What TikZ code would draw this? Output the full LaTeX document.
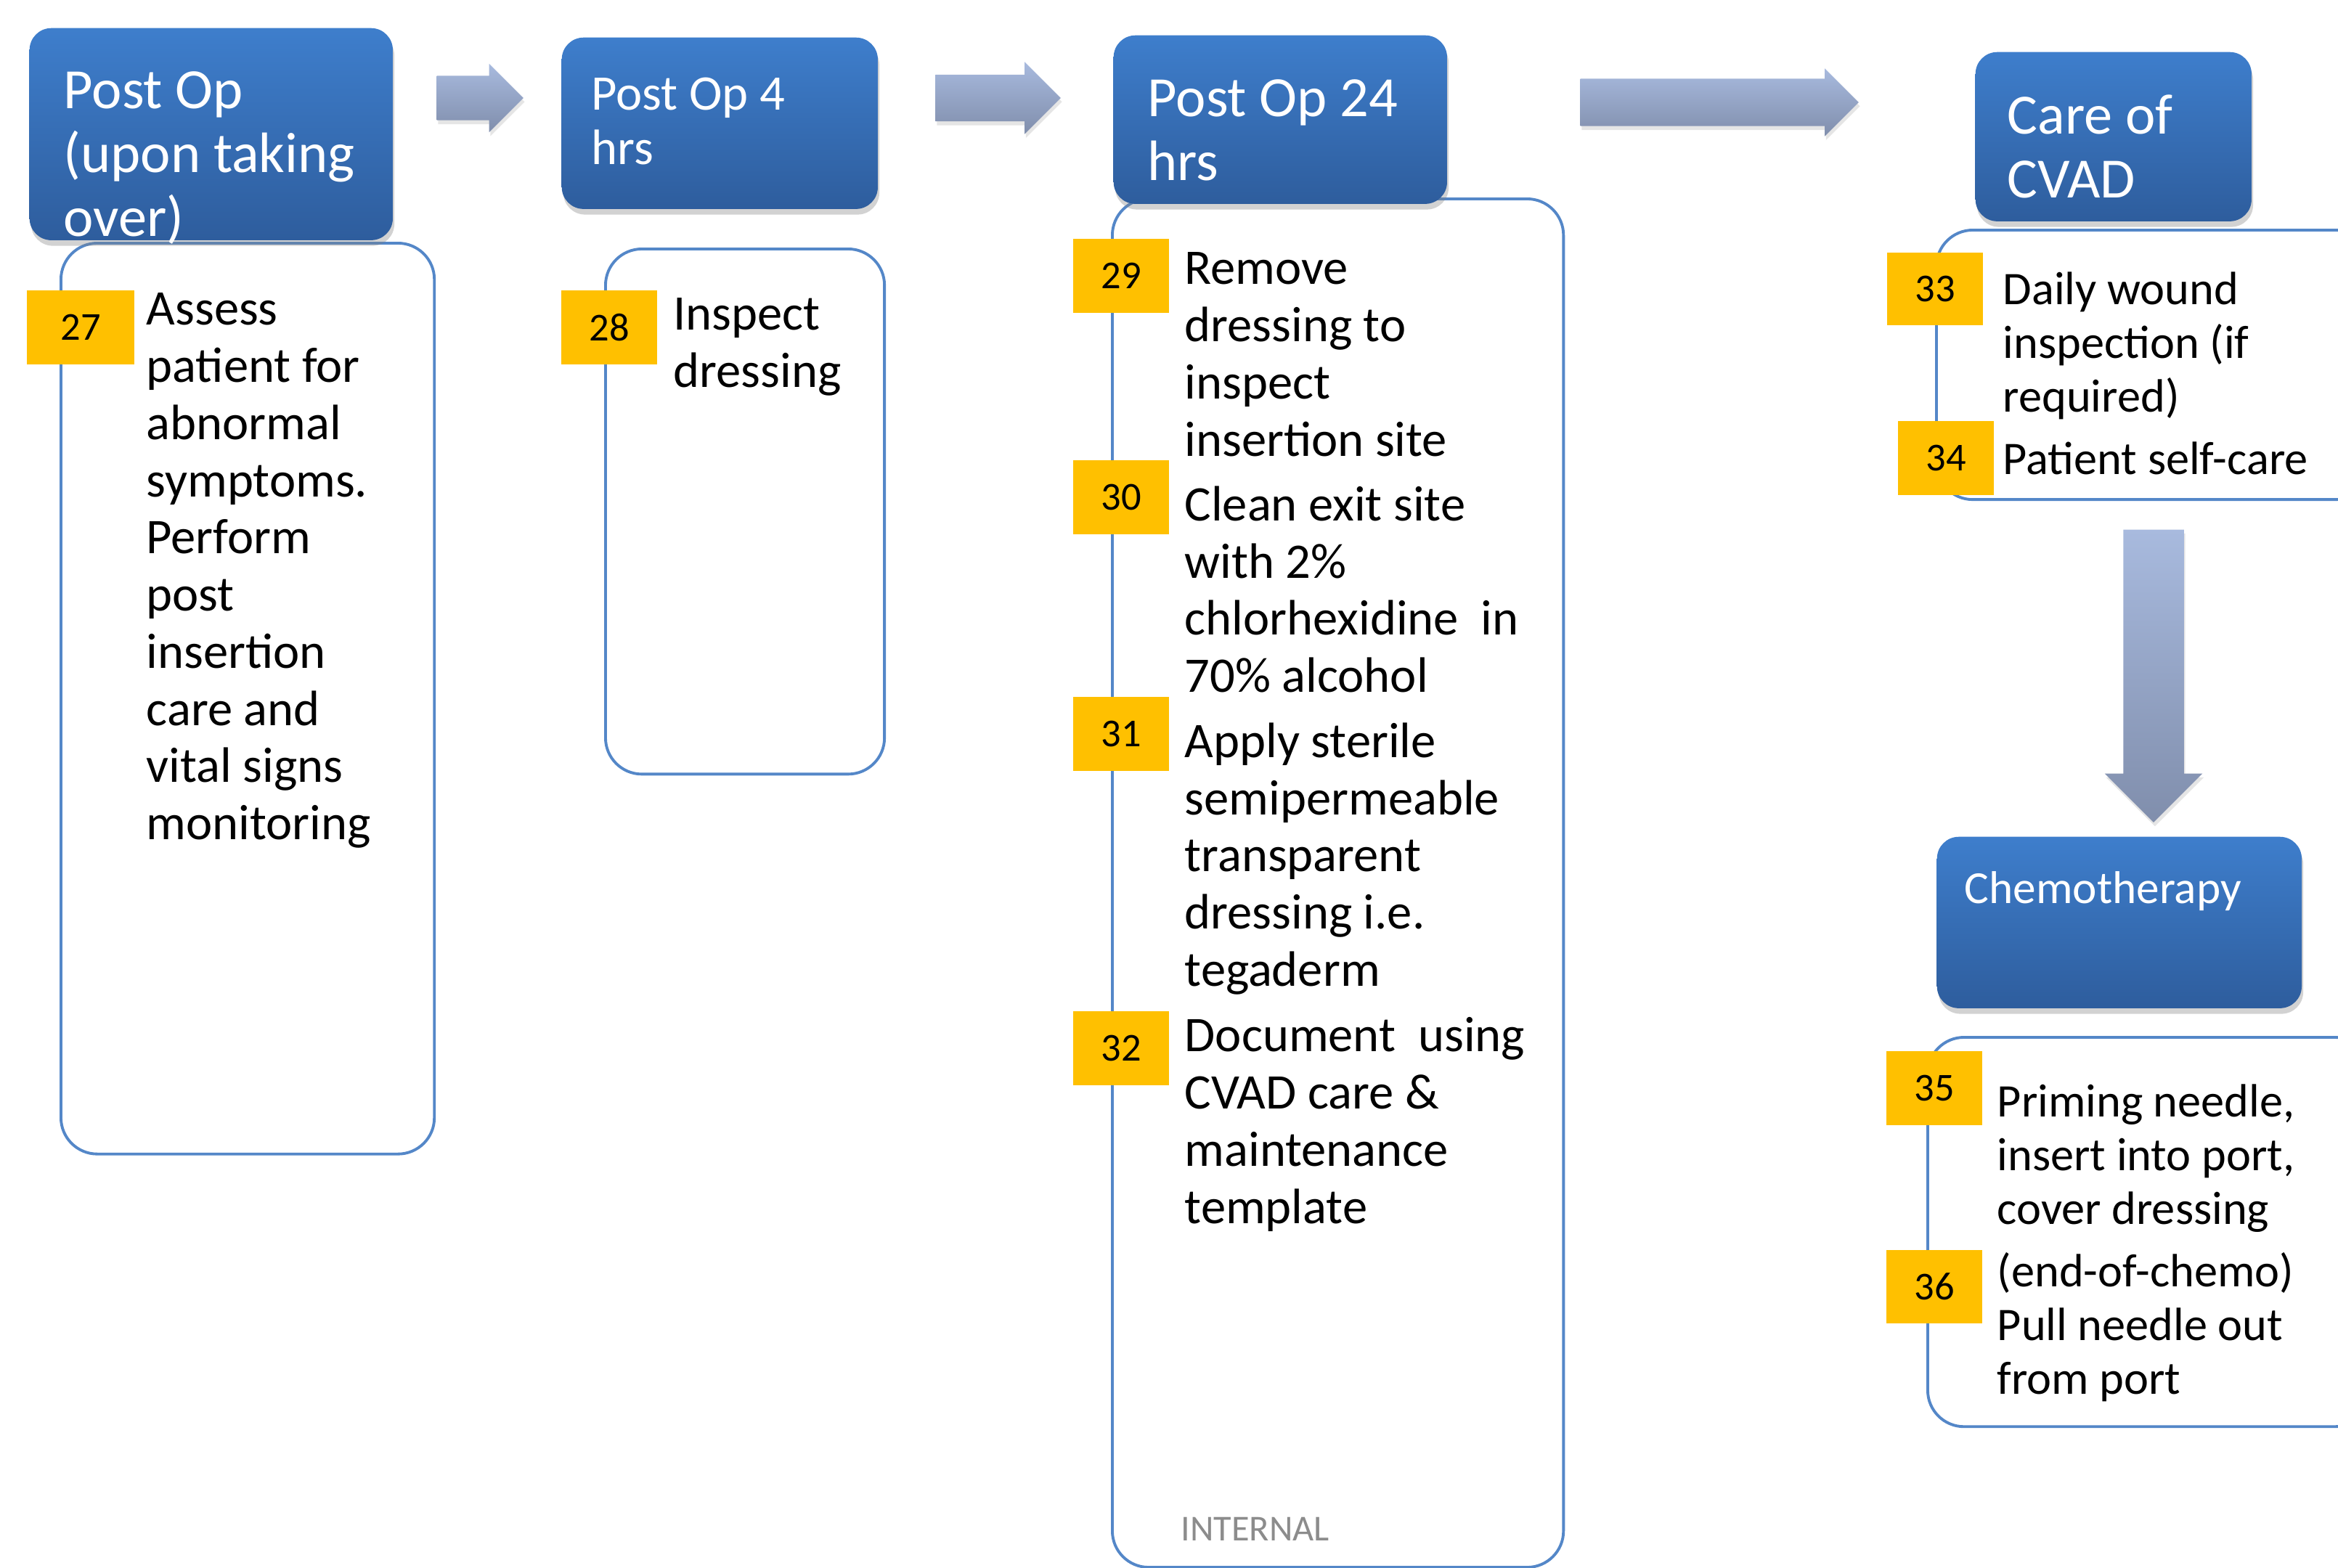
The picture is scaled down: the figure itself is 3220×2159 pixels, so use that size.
\documentclass[tikz,border=0pt]{standalone}
\usepackage{fontspec}
\setmainfont{Carlito}
\usepackage{tikz}
\usetikzlibrary{shapes.arrows, shadows, positioning}

\definecolor{hdtop}{RGB}{62,126,204}
\definecolor{hdbottom}{RGB}{46,93,157}
\definecolor{panelline}{RGB}{84,135,200}
\definecolor{badgefill}{RGB}{255,192,0}
\definecolor{arrowtop}{RGB}{168,186,222}
\definecolor{arrowbottom}{RGB}{128,142,172}

\begin{document}
\begin{tikzpicture}[x=0.01cm, y=-0.01cm]
		\tikzset{
			header/.style={rectangle, rounded corners=0.3cm, top color=hdtop, bottom color=hdbottom, draw=none,
			drop shadow={shadow xshift=0.6pt, shadow yshift=-2.2pt, opacity=0.35}, anchor=north west, inner sep=0pt},
			hdtext/.style={white, align=left, inner sep=0pt, anchor=north west, execute at begin node=\strut,
			font=\fontsize{22.3}{25}\selectfont},
			panel/.style={rectangle, rounded corners=0.5cm, draw=panelline, line width=1.1pt, fill=white,
			anchor=north west, inner sep=0pt},
			badge/.style={rectangle, fill=badgefill, minimum width=1.32cm, minimum height=1.01cm, inner sep=0pt,
			font=\fontsize{15.5}{18}\selectfont},
			steptext/.style={black, align=left, inner sep=0pt, anchor=north west, execute at begin node=\strut,
			font=\fontsize{19.5}{22.4}\selectfont},
			subtext/.style={steptext, font=\fontsize{18.3}{21}\selectfont},
			blockarrow/.style={single arrow, top color=arrowtop, bottom color=arrowbottom, draw=none, inner xsep=0pt,
			text height=0pt, text depth=0pt, anchor=tail, drop shadow={shadow xshift=0.5pt, shadow yshift=-1.5pt, opacity=0.2}}
		}
		\fill[white] (0,0) rectangle (3220,2159);
		\useasboundingbox (0,0) rectangle (3220,2159);

		% panels under the headers
		\node[panel, minimum width=5.14cm, minimum height=12.54cm] (bdtakeover) at (82,333) {};
		\node[panel, minimum width=3.84cm, minimum height=7.23cm] (bdfour) at (832,341) {};
		\node[panel, minimum width=6.21cm, minimum height=18.84cm] (bdday) at (1530,272) {};
		\node[panel, minimum width=6.00cm, minimum height=3.71cm] (bdcvad) at (2665,315) {};
		\node[panel, minimum width=6.10cm, minimum height=5.36cm] (bdchemo) at (2653,1427) {};

		% headers
		\node[header, minimum width=5.00cm, minimum height=2.92cm] (hdtakeover) at (40,38) {};
		\node[header, minimum width=4.35cm, minimum height=2.36cm] (hdfour) at (773,51) {};
		\node[header, minimum width=4.59cm, minimum height=2.32cm] (hdday) at (1533,48) {};
		\node[header, minimum width=3.80cm, minimum height=2.33cm] (hdcvad) at (2720,71) {};
		\node[header, minimum width=5.02cm, minimum height=2.36cm] (hdchemo) at (2667,1152) {};

		\node[hdtext] (lbtakeover) at (87,98) {Post Op\\(upon taking\\over)};
		\node[hdtext, font=\fontsize{19.5}{21.3}\selectfont] (lbfour) at (814,106) {Post Op 4\\hrs};
		\node[hdtext] (lbday) at (1580,109) {Post Op 24\\hrs};
		\node[hdtext] (lbcvad) at (2764,130) {Care of\\CVAD};
		\node[hdtext, font=\fontsize{18}{21}\selectfont] (lbchemo) at (2705,1192) {Chemotherapy};

		% block arrows
		\node[blockarrow, minimum height=1.19cm, inner ysep=0.30cm, single arrow head extend=0.165cm] (go1) at (601,135) {};
		\node[blockarrow, minimum height=1.72cm, inner ysep=0.315cm, single arrow head extend=0.175cm] (go2) at (1288,135) {};
		\node[blockarrow, minimum height=3.83cm, inner ysep=0.32cm, single arrow head extend=0.14cm] (go3) at (2176,141) {};
		\node[blockarrow, shape border rotate=270, minimum height=4.03cm, inner xsep=0.41cm, inner ysep=0pt,
		single arrow head extend=0.255cm] (go4) at (2966,729) {};

		% step texts
		\node[steptext] (t27) at (201,403) {Assess\\patient for\\abnormal\\symptoms.\\Perform\\post\\insertion\\care and\\vital signs\\monitoring};
		\node[steptext] (t28) at (927,410) {Inspect\\dressing};
		\node[steptext] (t29) at (1631,347) {Remove\\dressing to\\inspect\\insertion site};
		\node[steptext] (t30) at (1631,669) {Clean exit site\\with 2\%\\chlorhexidine\ \ in\\70\% alcohol};
		\node[steptext] (t31) at (1631,995) {Apply sterile\\semipermeable\\transparent\\dressing i.e.\\tegaderm};
		\node[steptext] (t32) at (1631,1401) {Document\ \ using\\CVAD care \&\\maintenance\\template};
		\node[subtext] (t33) at (2758,374) {Daily wound\\inspection (if\\required)};
		\node[subtext] (t34) at (2758,601) {Patient self-care};
		\node[subtext] (t35) at (2750,1493) {Priming needle,\\insert into port,\\cover dressing};
		\node[subtext] (t36) at (2750,1725) {(end-of-chemo)\\Pull needle out\\from port};
		\node[steptext, anchor=base west, text=black!45, font=\fontsize{14.3}{17}\selectfont] (tag) at (1626,2122) {INTERNAL};

		% number badges
		\node[badge, minimum width=1.48cm] (n27) at (111,451) {27};
		\node[badge] (n28) at (839,451) {28};
		\node[badge] (n29) at (1544,380) {29};
		\node[badge] (n30) at (1544,685) {30};
		\node[badge] (n31) at (1544,1011) {31};
		\node[badge] (n32) at (1544,1444) {32};
		\node[badge, minimum height=0.99cm] (n33) at (2665,398) {33};
		\node[badge] (n34) at (2680,631) {34};
		\node[badge] (n35) at (2664,1499) {35};
		\node[badge] (n36) at (2664,1772) {36};

	\end{tikzpicture}
\end{document}
